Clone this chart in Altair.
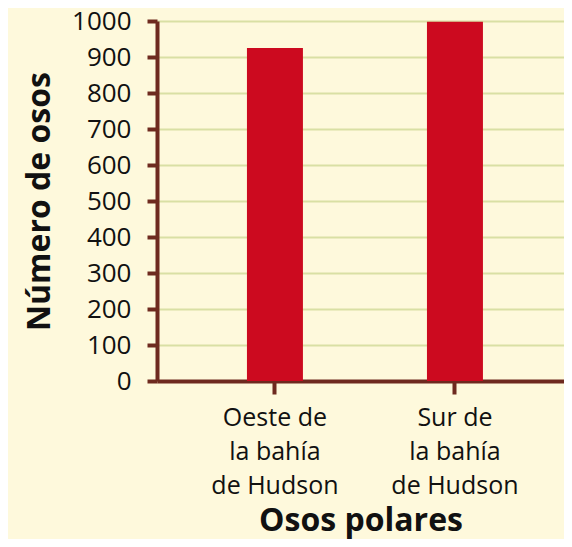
import altair as alt
import pandas as pd

categories = ["Oeste de|la bahía|de Hudson", "Sur de|la bahía|de Hudson"]
values = [925, 998]
y_ticks = [0, 100, 200, 300, 400, 500, 600, 700, 800, 900, 1000]

df = pd.DataFrame({"region": categories, "osos": values})

BG = "#FEF9DC"
AXIS = "#6E2A1F"
GRID = "#D9E0A4"
BAR = "#CC0A1F"
FONT = "Open Sans"

chart = alt.Chart(df).mark_bar(color=BAR).encode(
    x=alt.X(
        "region:N",
        sort=categories,
        scale=alt.Scale(paddingInner=0.689, paddingOuter=0.475, align=0.526),
        axis=alt.Axis(
            title="Osos polares",
            labelAngle=0,
            labelExpr="split(datum.label, '|')",
            labelFont=FONT,
            labelFontSize=25,
            labelLineHeight=34,
            labelColor="#111111",
            labelPadding=11,
            tickSize=13,
            tickWidth=4,
            tickColor=AXIS,
            domainColor=AXIS,
            domainWidth=4,
            titleFont=FONT,
            titleFontSize=32,
            titleFontWeight="bold",
            titleColor="#111111",
            titlePadding=7,
            grid=False,
        ),
    ),
    y=alt.Y(
        "osos:Q",
        scale=alt.Scale(domain=[0, 1000], nice=False),
        axis=alt.Axis(
            title="Número de osos",
            values=y_ticks,
            format="d",
            labelFont=FONT,
            labelFontSize=26,
            labelColor="#111111",
            labelPadding=16,
            tickSize=10,
            tickWidth=4,
            tickColor=AXIS,
            domainColor=AXIS,
            domainWidth=4,
            titleFont=FONT,
            titleFontSize=32,
            titleFontWeight="bold",
            titleColor="#111111",
            titlePadding=15,
            grid=True,
            gridColor=GRID,
            gridWidth=2,
        ),
    ),
).properties(
    width=407,
    height=360,
    background=BG,
    autosize=alt.AutoSizeParams(type="none"),
    padding={"left": 149, "top": 13, "right": 0, "bottom": 158},
).configure_view(stroke=None, fill=BG)

chart.save("out.html", embed_options={"renderer": "svg", "actions": False})
